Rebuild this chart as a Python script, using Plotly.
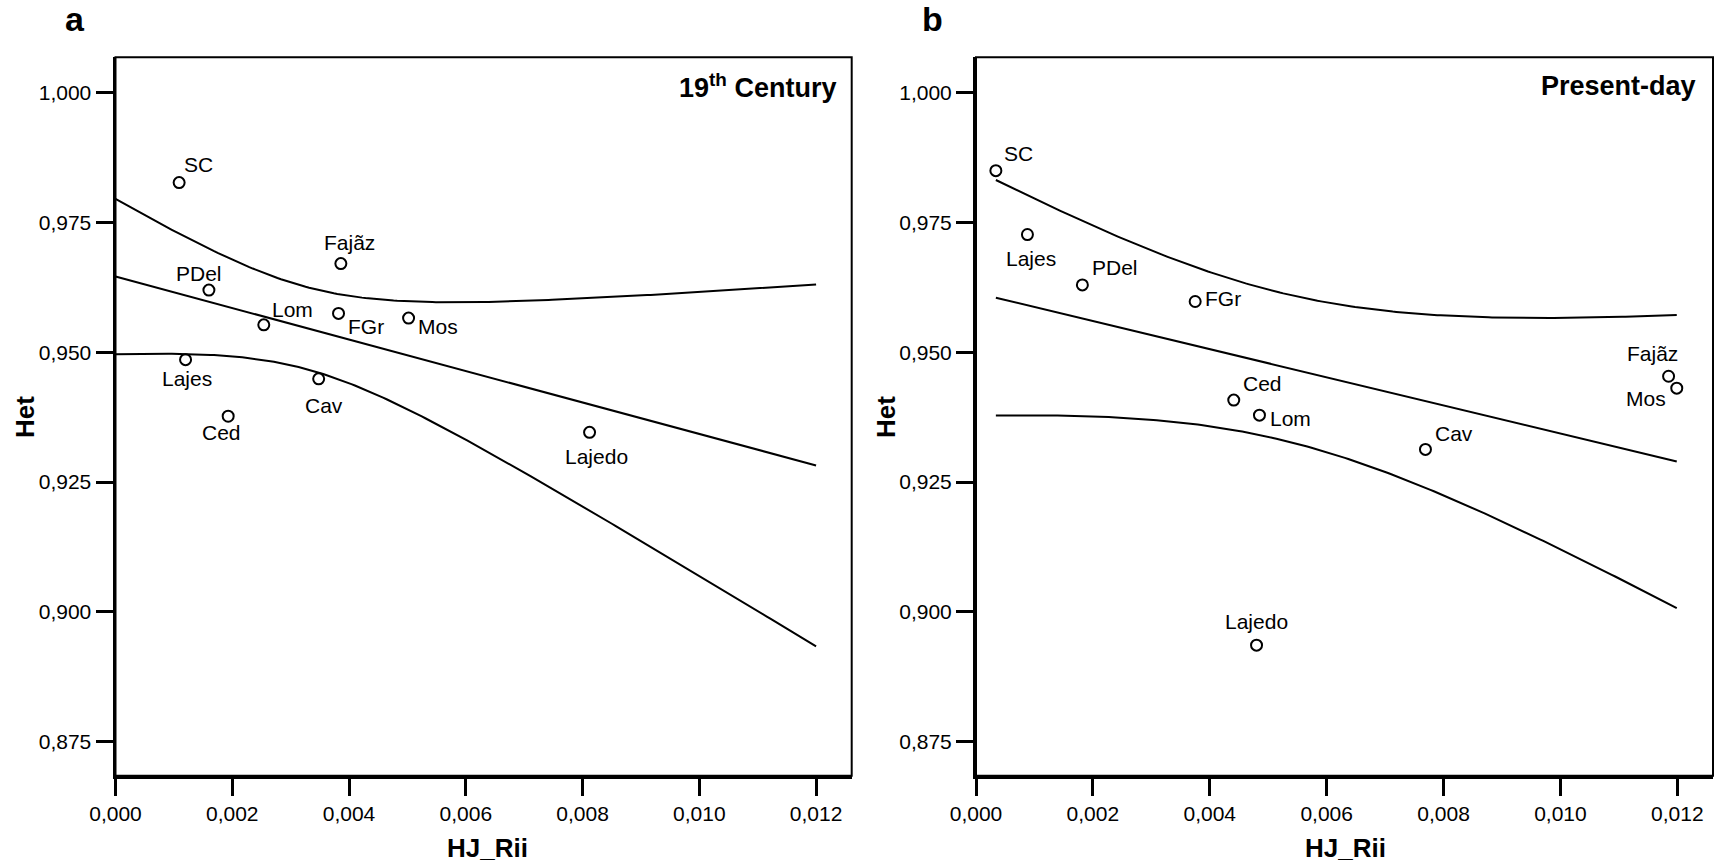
import numpy as np
import plotly.graph_objects as go

# ---------------- data ----------------
sites_a = ["SC", "Fajãz", "PDel", "Lom", "FGr", "Mos", "Lajes", "Cav", "Ced", "Lajedo"]
hj_a = [0.00109, 0.00386, 0.00160, 0.00254, 0.00382, 0.00502, 0.00120, 0.00348, 0.00193, 0.00812]
het_a = [0.9827, 0.9671, 0.9620, 0.9553, 0.9575, 0.9566, 0.9486, 0.9449, 0.9377, 0.9346]

sites_b = ["SC", "Lajes", "PDel", "FGr", "Fajãz", "Mos", "Ced", "Lom", "Cav", "Lajedo"]
hj_b = [0.00034, 0.00088, 0.00182, 0.00375, 0.01185, 0.01199, 0.00441, 0.00485, 0.00769, 0.00480]
het_b = [0.9850, 0.9727, 0.9630, 0.9598, 0.9454, 0.9431, 0.9408, 0.9379, 0.9313, 0.8936]

x_ticks = [0.000, 0.002, 0.004, 0.006, 0.008, 0.010, 0.012]
y_ticks = [0.875, 0.900, 0.925, 0.950, 0.975, 1.000]

# label offsets in screen pixels (dx right, dy down) -- styling only
off_a = {"SC": (19, -18), "Fajãz": (9, -21), "PDel": (-10, -17), "Lom": (29, -15),
         "FGr": (27, 13), "Mos": (29, 8), "Lajes": (1, 19), "Cav": (5, 27),
         "Ced": (-7, 16), "Lajedo": (7, 24)}
off_b = {"SC": (23, -17), "Lajes": (4, 24), "PDel": (33, -17), "FGr": (28, -3),
         "Fajãz": (-16, -23), "Mos": (-31, 10), "Ced": (29, -17), "Lom": (31, 3),
         "Cav": (29, -16), "Lajedo": (0, -24)}

T90 = 1.8595  # t(0.95, df=8) -> 90% mean confidence band


def fit_band(x, y, x0, x1):
    x = np.asarray(x, float)
    y = np.asarray(y, float)
    n = len(x)
    xm, ym = x.mean(), y.mean()
    sxx = ((x - xm) ** 2).sum()
    b1 = ((x - xm) * (y - ym)).sum() / sxx
    b0 = ym - b1 * xm
    resid = y - (b0 + b1 * x)
    s = np.sqrt((resid ** 2).sum() / (n - 2))
    xs = np.linspace(x0, x1, 200)
    yh = b0 + b1 * xs
    se = s * np.sqrt(1.0 / n + (xs - xm) ** 2 / sxx)
    return xs, yh, yh + T90 * se, yh - T90 * se


W, H = 1715, 867
FONT = "Liberation Sans, Arial, sans-serif"

fig = go.Figure()

panels = [
    ("x", "y", sites_a, hj_a, het_a, off_a, (0.0, 0.012)),
    ("x2", "y2", sites_b, hj_b, het_b, off_b, (min(hj_b), max(hj_b))),
]

annotations = []
for xa, ya, sites, hj, het, off, (lx0, lx1) in panels:
    xs, yh, up, lo = fit_band(hj, het, lx0, lx1)
    for yy in (up, yh, lo):
        fig.add_trace(go.Scatter(x=xs, y=yy, xaxis=xa, yaxis=ya, mode="lines",
                                 line=dict(color="black", width=2), showlegend=False,
                                 hoverinfo="skip"))
    fig.add_trace(go.Scatter(x=hj, y=het, xaxis=xa, yaxis=ya, mode="markers",
                             marker=dict(symbol="circle-open", size=11, color="black",
                                         line=dict(width=2, color="black")),
                             text=sites, showlegend=False))
    for s, xv, yv in zip(sites, hj, het):
        dx, dy = off[s]
        annotations.append(dict(x=xv, y=yv, xref=xa, yref=ya, text=s, showarrow=False,
                                xshift=dx, yshift=-dy, xanchor="center", yanchor="middle",
                                font=dict(family=FONT, size=21, color="black")))

# plot-area geometry (pixels)
L1, R1 = 115.5, 851.7
L2, R2 = 976.0, 1713.0
TOP, BOT = 57.3, 775.7

axis_common = dict(showgrid=False, zeroline=False, showline=True, linecolor="black",
                   linewidth=3, ticks="outside", ticklen=17, tickwidth=3,
                   tickcolor="black", tickfont=dict(family=FONT, size=21, color="black"),
                   tickformat=".3f", automargin=False)

xr = [0.0, 0.01261]
yr = [0.86845, 1.00684]
ydom = [1 - BOT / H, 1 - TOP / H]

fig.update_layout(
    template="none",
    width=W, height=H, margin=dict(l=0, r=0, t=0, b=0, pad=0, autoexpand=False),
    paper_bgcolor="white", plot_bgcolor="white",
    separators=",.",
    xaxis=dict(domain=[L1 / W, R1 / W], range=xr, tickvals=x_ticks, anchor="y", **axis_common),
    yaxis=dict(domain=ydom, range=yr, tickvals=y_ticks, anchor="x", **axis_common),
    xaxis2=dict(domain=[L2 / W, R2 / W], range=xr, tickvals=x_ticks, anchor="y2", **axis_common),
    yaxis2=dict(domain=ydom, range=yr, tickvals=y_ticks, anchor="x2", **axis_common),
)

# box frames
for xd, yd in (("x domain", "y domain"), ("x2 domain", "y2 domain")):
    fig.add_shape(type="rect", xref=xd, yref=yd, x0=0, x1=1, y0=0, y1=1,
                  line=dict(color="black", width=2), layer="above")


def pax(px):
    return px / W


def pay(py):
    return 1 - py / H


# panel titles
annotations.append(dict(x=pax(838), y=pay(86), xref="paper", yref="paper",
                        text="<b>19<sup>th</sup> Century</b>", showarrow=False,
                        xanchor="right", yanchor="middle",
                        font=dict(family=FONT, size=27, color="black")))
annotations.append(dict(x=pax(1698), y=pay(86), xref="paper", yref="paper",
                        text="<b>Present-day</b>", showarrow=False,
                        xanchor="right", yanchor="middle",
                        font=dict(family=FONT, size=27, color="black")))
# panel letters
annotations.append(dict(x=pax(75), y=pay(19), xref="paper", yref="paper", text="<b>a</b>",
                        showarrow=False, xanchor="center", yanchor="middle",
                        font=dict(family=FONT, size=34, color="black")))
annotations.append(dict(x=pax(932), y=pay(19), xref="paper", yref="paper", text="<b>b</b>",
                        showarrow=False, xanchor="center", yanchor="middle",
                        font=dict(family=FONT, size=34, color="black")))
# axis titles
for cx in (25, 886):
    annotations.append(dict(x=pax(cx), y=pay(417), xref="paper", yref="paper", text="<b>Het</b>",
                            showarrow=False, textangle=-90, xanchor="center", yanchor="middle",
                            font=dict(family=FONT, size=26, color="black")))
for cx in (488, 1345):
    annotations.append(dict(x=pax(cx), y=pay(848), xref="paper", yref="paper", text="<b>HJ_Rii</b>",
                            showarrow=False, xanchor="center", yanchor="middle",
                            font=dict(family=FONT, size=26, color="black")))

fig.update_layout(annotations=annotations)

fig.write_html("out.html")
